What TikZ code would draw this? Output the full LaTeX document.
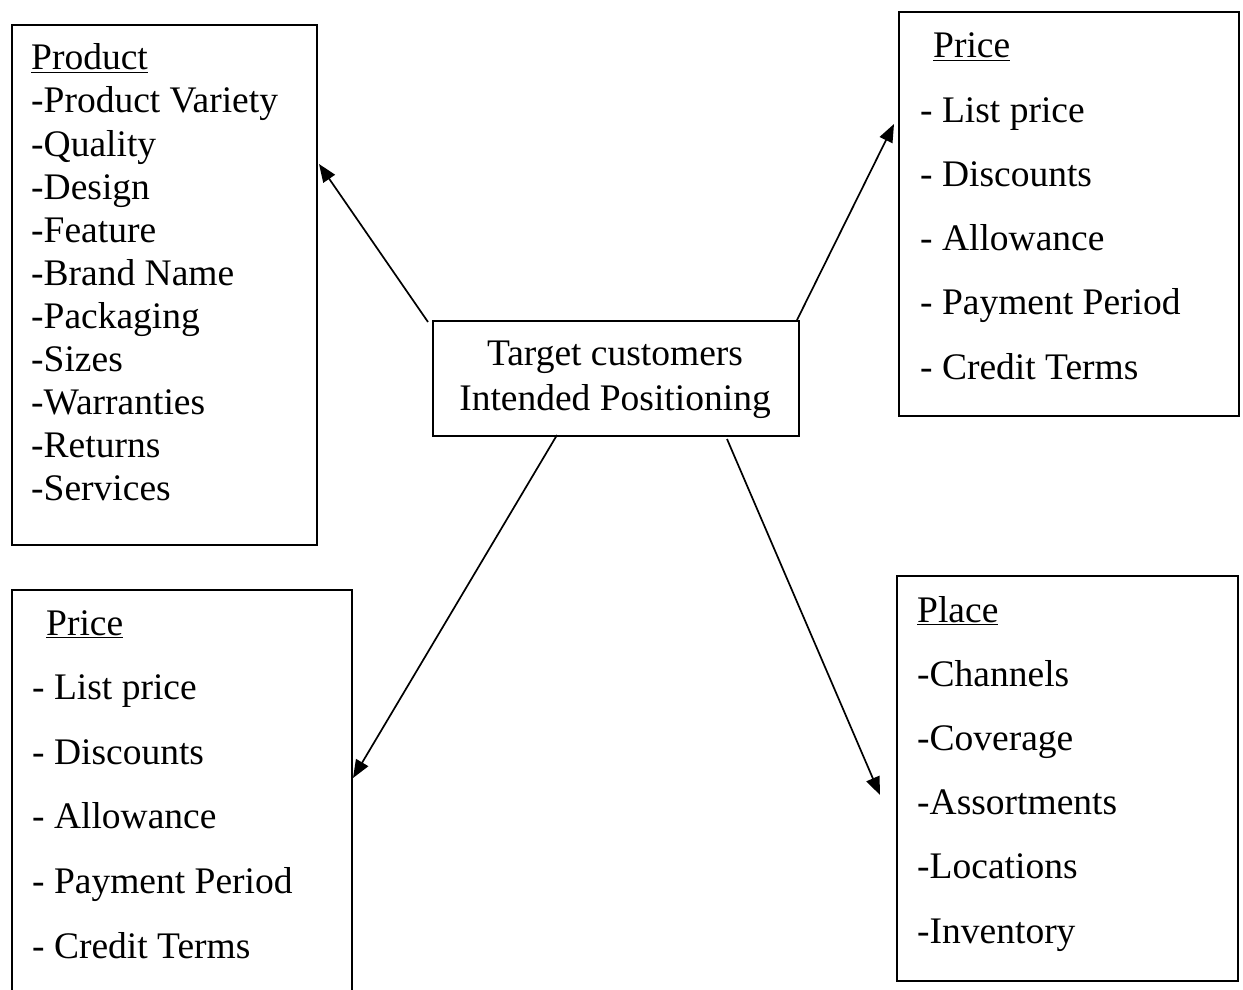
\documentclass[tikz,border=0pt]{standalone}
\usepackage{fontspec}
\setmainfont{Liberation Serif}
\usetikzlibrary{arrows.meta}
\begin{document}
\begin{tikzpicture}[x=1pt,y=-1pt,
  box/.style={draw, line width=1.7pt, rectangle, inner sep=0pt, anchor=north west},
  txt/.style={anchor=base west, inner sep=0pt, font=\fontsize{37.5}{43}\selectfont},
  ctxt/.style={anchor=base, inner sep=0pt, font=\fontsize{37.5}{43}\selectfont},
  arr/.style={line width=1.7pt, -{Triangle[length=18pt,width=14pt]}}]
\useasboundingbox (0,0) rectangle (1243,990);
\clip (0,0) rectangle (1243,990);

% boxes
\node[box, minimum width=305pt, minimum height=520pt] (product) at (11,24) {};
\node[box, minimum width=340pt, minimum height=404pt] (priceA) at (898,11) {};
\node[box, minimum width=366pt, minimum height=115pt] (center) at (432,320) {};
\node[box, minimum width=340pt, minimum height=405pt] (priceB) at (11,589) {};
\node[box, minimum width=341pt, minimum height=405pt] (place) at (896,575) {};

% product text
\node[txt] (pr0) at (31,70) {\underline{Product}};
\foreach \t [count=\i] in {-Product Variety,-Quality,-Design,-Feature,-Brand Name,-Packaging,-Sizes,-Warranties,-Returns,-Services}
  \node[txt] (pr\i) at (31,70+43*\i) {\t};

% price (top right)
\node[txt] (pa0) at (933,58) {\underline{Price}};
\foreach \t [count=\i] in {- List price,- Discounts,- Allowance,- Payment Period,- Credit Terms}
  \node[txt] (pa\i) at (920,58+64.2*\i) {\t};

% center
\node[ctxt] (c1) at (615,365) {Target customers};
\node[ctxt] (c2) at (615,410) {Intended Positioning};

% price (bottom left)
\node[txt] (pb0) at (46,635) {\underline{Price}};
\foreach \t [count=\i] in {- List price,- Discounts,- Allowance,- Payment Period,- Credit Terms}
  \node[txt] (pb\i) at (32,635+64.6*\i) {\t};

% place
\node[txt] (pl0) at (917,622) {\underline{Place}};
\foreach \t [count=\i] in {-Channels,-Coverage,-Assortments,-Locations,-Inventory}
  \node[txt] (pl\i) at (917,622+64.2*\i) {\t};

% connector end points
\coordinate (a1s) at (428,322);
\coordinate (a1e) at (319,164);
\coordinate (a2s) at (797,320);
\coordinate (a2e) at (894,124);
\coordinate (a3s) at (557,435);
\coordinate (a3e) at (353,778);
\coordinate (a4s) at (727,439);
\coordinate (a4e) at (880,795);

\draw[arr] (a1s) -- (a1e);
\draw[arr] (a2s) -- (a2e);
\draw[arr] (a3s) -- (a3e);
\draw[arr] (a4s) -- (a4e);
\end{tikzpicture}
\end{document}
